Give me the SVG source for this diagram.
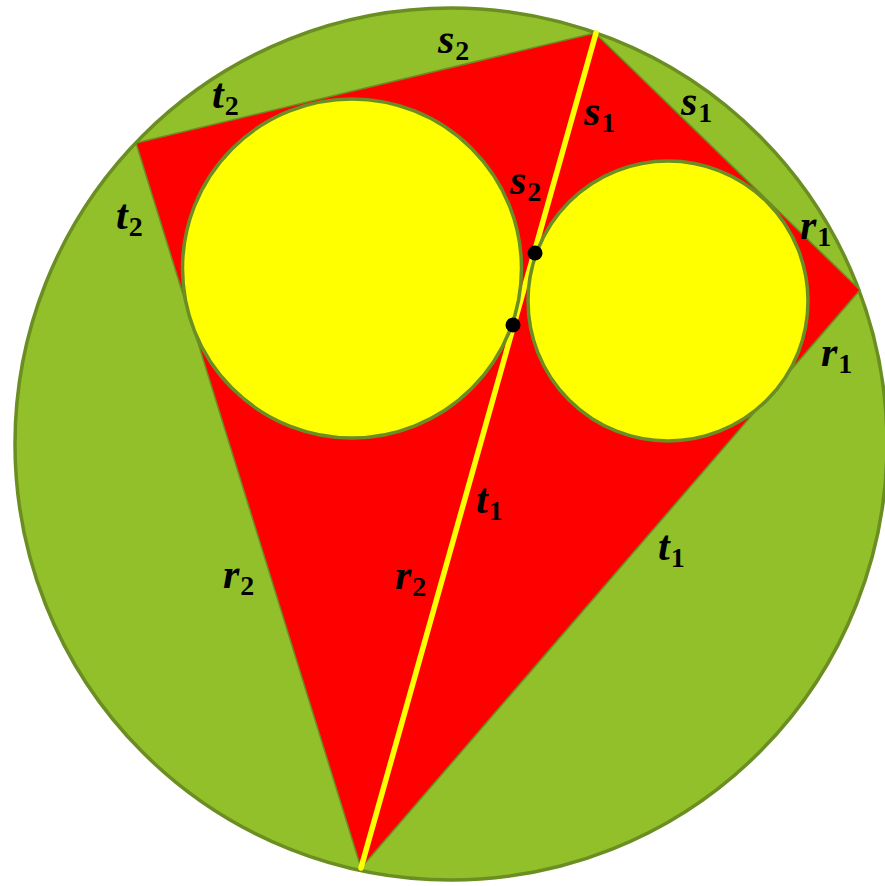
<svg xmlns="http://www.w3.org/2000/svg" width="885" height="886" viewBox="0 0 885 886">
<style>
.v{font-family:"Liberation Serif","DejaVu Serif",serif;font-weight:bold;font-style:italic;font-size:42px;fill:#000}
.s{font-family:"Liberation Serif","DejaVu Serif",serif;font-weight:bold;font-style:normal;font-size:28px;fill:#000}
</style>
<rect width="885" height="886" fill="#fff"/>
<g id="outer-circle"><circle cx="451" cy="444" r="436" fill="#92C02A" stroke="#6B8E23" stroke-width="3.5"/></g>
<g id="quadrilateral"><polygon points="136,143 595,33 860,290 361,868" fill="#FF0000" stroke="#6B8E23" stroke-width="1.5" stroke-linejoin="round"/></g>
<g id="connectors"><line x1="596" y1="33" x2="361" y2="868" stroke="#FFFF00" stroke-width="5.5" stroke-linecap="round"/></g>
<g id="incircle-left"><circle cx="352" cy="268.5" r="169.5" fill="#FFFF00" stroke="#6B8E23" stroke-width="3.5"/></g>
<g id="incircle-right"><circle cx="668" cy="301" r="140" fill="#FFFF00" stroke="#6B8E23" stroke-width="3.5"/></g>
<g id="dots"><circle cx="535" cy="253" r="7.5" fill="#000"/><circle cx="513" cy="325" r="7.5" fill="#000"/></g>
<g id="labels">
<text x="438" y="53"><tspan class="v">s</tspan><tspan class="s" dx="1" dy="7">2</tspan></text>
<text x="212" y="108"><tspan class="v">t</tspan><tspan class="s" dx="1" dy="7">2</tspan></text>
<text x="116" y="229"><tspan class="v">t</tspan><tspan class="s" dx="1" dy="7">2</tspan></text>
<text x="584" y="125"><tspan class="v">s</tspan><tspan class="s" dx="1" dy="7">1</tspan></text>
<text x="681" y="115"><tspan class="v">s</tspan><tspan class="s" dx="1" dy="7">1</tspan></text>
<text x="510" y="194"><tspan class="v">s</tspan><tspan class="s" dx="1" dy="7">2</tspan></text>
<text x="800" y="239"><tspan class="v">r</tspan><tspan class="s" dx="1" dy="7">1</tspan></text>
<text x="821" y="366"><tspan class="v">r</tspan><tspan class="s" dx="1" dy="7">1</tspan></text>
<text x="476" y="513"><tspan class="v">t</tspan><tspan class="s" dx="1" dy="7">1</tspan></text>
<text x="658" y="560"><tspan class="v">t</tspan><tspan class="s" dx="1" dy="7">1</tspan></text>
<text x="223" y="588"><tspan class="v">r</tspan><tspan class="s" dx="1" dy="7">2</tspan></text>
<text x="395" y="589"><tspan class="v">r</tspan><tspan class="s" dx="1" dy="7">2</tspan></text>
</g>
</svg>
